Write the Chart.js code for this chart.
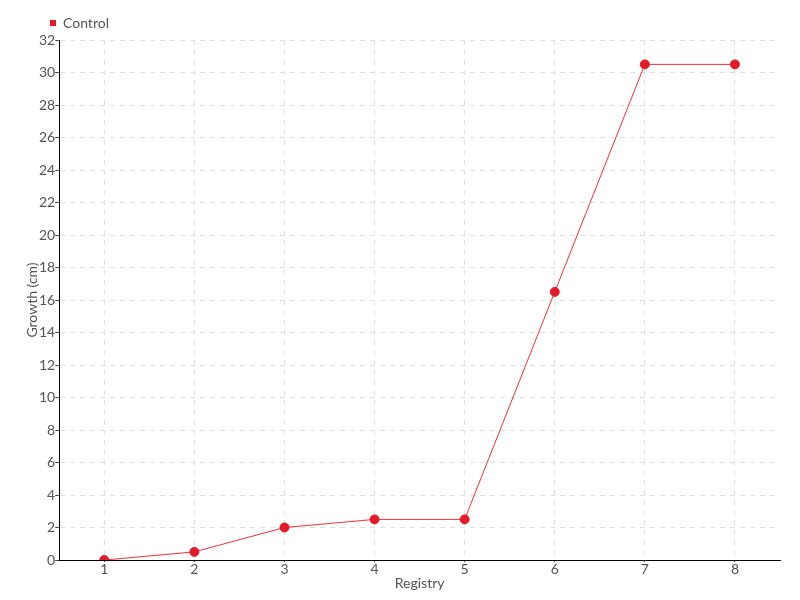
<!DOCTYPE html>
<html>
<head>
  <script src="https://cdn.jsdelivr.net/npm/chart.js"></script>
  <style>
    body { margin: 0; background: #fff; }
    #wrap { width: 800px; height: 600px; }
  </style>
</head>
<body>
  <div id="wrap"><canvas id="chart"></canvas></div>
  <script>
    // data
    const registry = ['1', '2', '3', '4', '5', '6', '7', '8'];
    const control = [0, 0.5, 2, 2.5, 2.5, 16.5, 30.5, 30.5];

    Chart.defaults.font.family = 'Lato, "Open Sans", sans-serif';
    Chart.defaults.color = '#555';

    // nudge the legend to the right, like the original
    const legendShift = {
      id: 'legendShift',
      afterLayout(chart) {
        chart.legend.left += 17;
      }
    };

    new Chart(document.getElementById('chart'), {
      type: 'line',
      data: {
        labels: registry,
        datasets: [{
          label: 'Control',
          data: control,
          borderColor: '#f0303c',
          backgroundColor: '#e31a2a',
          borderWidth: 1,
          pointRadius: 4.5,
          pointBackgroundColor: '#e31a2a',
          pointBorderColor: '#e31a2a',
          tension: 0
        }]
      },
      options: {
        responsive: true,
        maintainAspectRatio: false,
        animation: false,
        layout: { padding: { left: 25, right: 20, top: 8, bottom: 10 } },
        plugins: {
          legend: {
            align: 'start',
            labels: {
              boxWidth: 6,
              boxHeight: 6,
              padding: 8,
              color: '#555',
              font: { size: 14 },
              generateLabels: chart => [{
                text: 'Control',
                fillStyle: '#e31a2a',
                strokeStyle: '#e31a2a',
                fontColor: '#555',
                lineWidth: 0,
                datasetIndex: 0
              }]
            }
          },
          tooltip: { enabled: false }
        },
        scales: {
          x: {
            offset: true,
            title: { display: true, text: 'Registry', font: { size: 14, lineHeight: 1 }, padding: 0 },
            grid: {
              color: '#e0e0e0',
              drawTicks: true,
              tickLength: 2,
              tickColor: '#444',
              tickBorderDash: [],
              offset: false
            },
            border: { color: '#000', width: 1, dash: [5, 5] },
            ticks: { font: { size: 14, lineHeight: 1 }, padding: 0 }
          },
          y: {
            min: 0,
            max: 32,
            title: { display: true, text: 'Growth (cm)', font: { size: 14, lineHeight: 1 }, padding: 0 },
            grid: { color: '#e0e0e0', tickLength: 4, tickColor: '#444', tickBorderDash: [] },
            border: { color: '#000', width: 1, dash: [5, 5] },
            ticks: { stepSize: 2, font: { size: 14 }, padding: 0 }
          }
        }
      },
      plugins: [legendShift]
    });
  </script>
</body>
</html>
